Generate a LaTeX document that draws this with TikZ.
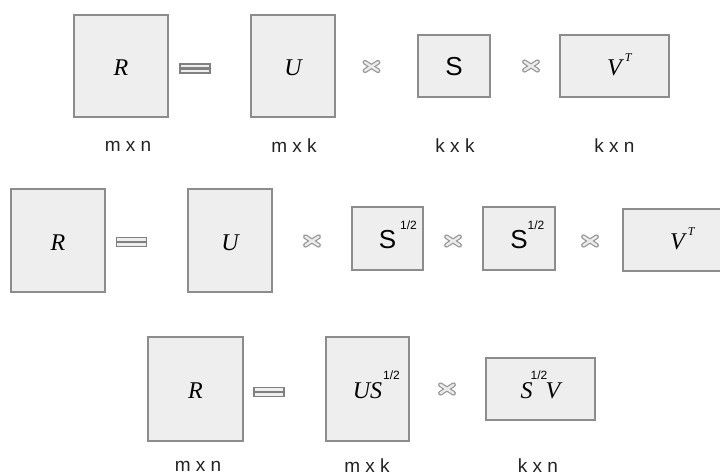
\documentclass[tikz,border=0pt]{standalone}
\usepackage{fontspec}
\setmainfont{Liberation Serif}
\setsansfont{Liberation Sans}
\definecolor{boxfill}{HTML}{EEEEEE}
\definecolor{boxline}{HTML}{8C8C8C}
\definecolor{labelcol}{HTML}{222222}
\newcommand{\mv}[1]{{\fontsize{24}{24}\selectfont\itshape #1}}
\newcommand{\sS}{{\fontsize{26}{26}\selectfont\sffamily S}}
\newcommand{\hf}{{\fontsize{12}{12}\selectfont\sffamily 1/2}}
\newcommand{\supT}{{\fontsize{12}{12}\selectfont\itshape T}}
\newcommand{\up}[2]{\smash{\raisebox{#1}{#2}}}
\tikzset{
  mat/.style={draw=boxline, fill=boxfill, line width=1.3pt, inner sep=0pt, anchor=center, text height=19.5pt, text depth=0pt},
  dimlabel/.style={font=\sffamily\fontsize{19}{19}\selectfont, text=labelcol, inner sep=0pt},
  timesouter/.style={draw=boxline!90, line width=4.8pt, line cap=round},
  timesinner/.style={draw=white!92!black, line width=2.4pt, line cap=round},
  eqbar/.style={draw=boxline!110, fill=boxfill, line width=1.1pt},
}
\newcommand{\timessym}[1]{%
  \draw[timesouter] ($(#1)+(-6.5,-4.2)$) -- ($(#1)+(6.5,4.2)$) ($(#1)+(-6.5,4.2)$) -- ($(#1)+(6.5,-4.2)$);
  \draw[timesinner] ($(#1)+(-6.5,-4.2)$) -- ($(#1)+(6.5,4.2)$) ($(#1)+(-6.5,4.2)$) -- ($(#1)+(6.5,-4.2)$);
}
\newcommand{\eqsym}[1]{%
  \draw[eqbar] ($(#1)+(-15,-4.5)$) rectangle ($(#1)+(15,-0.5)$);
  \draw[eqbar] ($(#1)+(-15,0.5)$) rectangle ($(#1)+(15,4.5)$);
}
\usetikzlibrary{calc}
\begin{document}
\begin{tikzpicture}[x=1pt,y=-1pt]
\useasboundingbox (0,0) rectangle (720,476);
\clip (0,0) rectangle (720,476);
\fill[white] (0,0) rectangle (720,476);

% Row 1
\node[mat, minimum width=94pt, minimum height=102pt] (r1R) at (121,66) {\mv{R}};
\node[mat, minimum width=84pt, minimum height=102pt] (r1U) at (293,66) {\mv{U}};
\node[mat, minimum width=72pt, minimum height=62pt] (r1S) at (454,66) {\sS};
\node[mat, minimum width=109pt, minimum height=62pt] (r1V) at (614.5,66) {\mv{V}\rlap{\hspace{3pt}\up{14pt}{\supT}}};
\coordinate (r1eq) at (195,68.5);
\coordinate (r1x1) at (371.5,66.5);
\coordinate (r1x2) at (531,66);
\eqsym{r1eq}
\timessym{r1x1}
\timessym{r1x2}
\node[dimlabel] (r1Rl) at (128,146) {m x n};
\node[dimlabel] (r1Ul) at (294,146) {m x k};
\node[dimlabel] (r1Sl) at (455,146) {k x k};
\node[dimlabel] (r1Vl) at (614.5,146) {k x n};

% Row 2
\node[mat, minimum width=94pt, minimum height=103pt] (r2R) at (58,240.5) {\mv{R}};
\node[mat, minimum width=84pt, minimum height=103pt] (r2U) at (230,240.5) {\mv{U}};
\node[mat, minimum width=71pt, minimum height=63pt] (r2S1) at (387.5,238.5) {\sS\rlap{\hspace{4pt}\up{19pt}{\hf}}};
\node[mat, minimum width=72pt, minimum height=63pt] (r2S2) at (519,238.5) {\sS\rlap{\hspace{0pt}\up{19pt}{\hf}}};
\node[mat, minimum width=109pt, minimum height=62pt] (r2V) at (677.5,240) {\mv{V}\rlap{\hspace{3pt}\up{14pt}{\supT}}};
\coordinate (r2eq) at (131.5,242);
\coordinate (r2x1) at (312,241);
\coordinate (r2x2) at (453,241);
\coordinate (r2x3) at (590,241);
\eqsym{r2eq}
\timessym{r2x1}
\timessym{r2x2}
\timessym{r2x3}

% Row 3
\node[mat, minimum width=95pt, minimum height=104pt] (r3R) at (195.5,389) {\mv{R}};
\node[mat, minimum width=83pt, minimum height=104pt] (r3US) at (367.5,389) {\mv{US}\rlap{\hspace{1pt}\up{19pt}{\hf}}};
\node[mat, minimum width=109pt, minimum height=62pt] (r3SV) at (540.5,389) {\mv{S}\rlap{\hspace{-2pt}\up{19pt}{\hf}}\hspace{13pt}\mv{V}};
\coordinate (r3eq) at (269,392);
\coordinate (r3x) at (447,389);
\eqsym{r3eq}
\timessym{r3x}
\node[dimlabel] (r3Rl) at (198,466) {m x n};
\node[dimlabel] (r3Ul) at (367,466) {m x k};
\node[dimlabel] (r3Vl) at (538,466) {k x n};
\end{tikzpicture}
\end{document}
